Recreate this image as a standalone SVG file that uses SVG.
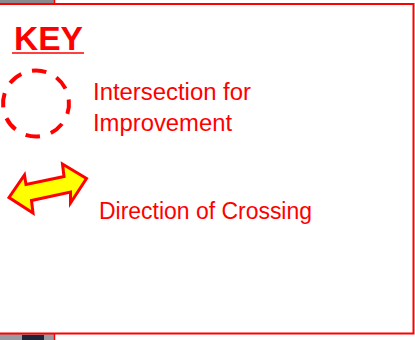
<svg xmlns="http://www.w3.org/2000/svg" width="415" height="340" viewBox="0 0 415 340">
<style>
.t{font-family:"Liberation Sans",Arial,sans-serif;fill:#ff0000;font-size:23px}
</style>
<rect width="415" height="340" fill="#ffffff"/>
<g id="map-fragment">
<rect x="0" y="0" width="54" height="4" fill="#8a8a8e"/>
<rect x="0" y="334" width="54" height="6" fill="#9a9aa2"/>
<rect x="22" y="335" width="22" height="5" fill="#1f2438"/>
<line x1="54.5" y1="0" x2="54.5" y2="4" stroke="#ff0000" stroke-width="1.5"/>
<line x1="54.5" y1="334" x2="54.5" y2="340" stroke="#ff0000" stroke-width="1.5"/>
</g>
<g id="key-box">
<rect x="-3" y="4" width="416.5" height="329.5" fill="#ffffff" stroke="#ff0000" stroke-width="2"/>
</g>
<g id="title">
<text x="14" y="50" font-family="Liberation Sans,Arial,sans-serif" font-weight="bold" font-size="34" fill="#ff0000" textLength="69" lengthAdjust="spacingAndGlyphs">KEY</text>
<line x1="12" y1="53" x2="84" y2="53" stroke="#ff0000" stroke-width="1.5"/>
</g>
<g id="intersection-symbol">
<circle cx="36" cy="103.5" r="33" fill="none" stroke="#ff0000" stroke-width="4" stroke-dasharray="14.5 11.4" transform="rotate(-97 36 103.5)"/>
</g>
<g id="intersection-label">
<text class="t" x="93" y="100" textLength="158" lengthAdjust="spacingAndGlyphs">Intersection for</text>
<text class="t" x="93" y="131" textLength="139" lengthAdjust="spacingAndGlyphs">Improvement</text>
</g>
<g id="crossing-symbol">
<polygon points="9,197.5 24.5,175 26,184.5 64,176.5 62.5,164 86.5,178.5 70.5,203 70.5,192 31.5,200.5 33,213" fill="#ffff00" stroke="#ff0000" stroke-width="3" stroke-linejoin="miter"/>
</g>
<g id="crossing-label">
<text class="t" x="99" y="219" textLength="213" lengthAdjust="spacingAndGlyphs">Direction of Crossing</text>
</g>
</svg>
